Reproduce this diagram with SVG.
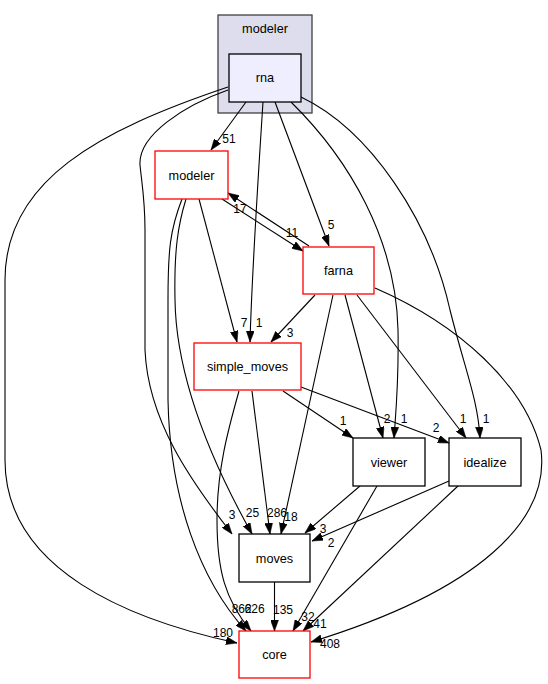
<svg xmlns="http://www.w3.org/2000/svg" width="548" height="684" viewBox="0 0 548 684">
<defs>
<marker id="ah" markerUnits="userSpaceOnUse" markerWidth="11" markerHeight="8" refX="11" refY="4" orient="auto" viewBox="0 0 11 8">
<path d="M0,0 L11,4 L0,8 z" fill="#000" stroke="#000" stroke-width="0.5"/>
</marker>
<style>
.e{fill:none;stroke:#000;stroke-width:1.1;marker-end:url(#ah)}
.t{font-family:"Liberation Sans",Arial,sans-serif;font-size:12.7px;text-anchor:middle;fill:#000}
.l{font-family:"Liberation Sans",Arial,sans-serif;font-size:12px;text-anchor:middle;fill:#000}
.red{fill:#fff;stroke:#ff0000;stroke-width:1.3}
.blk{fill:#fff;stroke:#000;stroke-width:1.3}
</style>
</defs>
<rect width="548" height="684" fill="#fff"/>
<g id="cluster_modeler">
<rect x="218" y="15" width="94" height="98" fill="#ddddee" stroke="#404040" stroke-width="1.3"/>
<text class="t" x="265" y="33">modeler</text>
</g>
<g id="connectors">
<path class="e" d="M246,102 L211,150"/>
<path class="e" d="M275,102 L329,246"/>
<path class="e" d="M263,102 C258,180 252,270 250,342"/>
<path class="e" d="M291,102 C350,160 396,240 398,330 C399,380 396,410 394,438"/>
<path class="e" d="M301,97 C370,130 430,220 450,310 C465,370 478,400 480,438"/>
<path class="e" d="M228,90 C185,105 138,135 140,165 C142,185 145,200 145,230 L145,350 C148,420 190,480 232,534"/>
<path class="e" d="M228,87 C100,130 5,180 5,280 L5,460 C5,570 130,620 237,643"/>
<path class="e" d="M222,199 L303,251"/>
<path class="e" d="M309,246 L228,193"/>
<path class="e" d="M199,199 L237,342"/>
<path class="e" d="M186,199 C178,225 174,250 175,300 C176,370 205,450 252,534"/>
<path class="e" d="M182,199 C170,230 168,250 168,300 L168,400 C170,500 200,580 246,631"/>
<path class="e" d="M239,391 C228,430 217,470 217,520 C217,570 225,600 251,631"/>
<path class="e" d="M252,391 L270,534"/>
<path class="e" d="M283,391 L353,438"/>
<path class="e" d="M301,387 L449,443"/>
<path class="e" d="M315,295 L271,342"/>
<path class="e" d="M333,295 L281,534"/>
<path class="e" d="M345,295 L383,438"/>
<path class="e" d="M357,295 L466,438"/>
<path class="e" d="M375,288 C460,325 525,385 541,450 C550,520 480,590 311,642"/>
<path class="e" d="M360,486 L305,533"/>
<path class="e" d="M377,486 L293,631"/>
<path class="e" d="M449,481 L312,541"/>
<path class="e" d="M458,486 L303,631"/>
<path class="e" d="M274.5,582 L274.5,631"/>
<text class="l" x="229" y="143">51</text>
<text class="l" x="240" y="213">17</text>
<text class="l" x="292" y="237">11</text>
<text class="l" x="331" y="229">5</text>
<text class="l" x="244" y="327">7</text>
<text class="l" x="259" y="327">1</text>
<text class="l" x="290" y="337">3</text>
<text class="l" x="343" y="425">1</text>
<text class="l" x="387" y="423">2</text>
<text class="l" x="404" y="423">1</text>
<text class="l" x="436" y="432">2</text>
<text class="l" x="463" y="423">1</text>
<text class="l" x="486" y="423">1</text>
<text class="l" x="232" y="519">3</text>
<text class="l" x="252.5" y="517">25</text>
<text class="l" x="277" y="517">286</text>
<text class="l" x="291" y="521">18</text>
<text class="l" x="323" y="533">3</text>
<text class="l" x="331" y="547">2</text>
<text class="l" x="241.7" y="613">862</text>
<text class="l" x="254.6" y="613">626</text>
<text class="l" x="283" y="614">135</text>
<text class="l" x="308" y="621">32</text>
<text class="l" x="320" y="628">41</text>
<text class="l" x="223" y="637">180</text>
<text class="l" x="330" y="648">408</text>
</g>
<g id="node_rna">
<rect x="229" y="54" width="72" height="48" fill="#eeeeff" stroke="#000" stroke-width="1.3"/>
<text class="t" x="265" y="82">rna</text>
</g>
<g id="node_modeler">
<rect class="red" x="155" y="151" width="73" height="48"/>
<text class="t" x="191.5" y="179.5">modeler</text>
</g>
<g id="node_farna">
<rect class="red" x="303" y="247" width="71" height="47"/>
<text class="t" x="338.5" y="275">farna</text>
</g>
<g id="node_simple_moves">
<rect class="red" x="194" y="343" width="107" height="47"/>
<text class="t" x="247.5" y="371">simple_moves</text>
</g>
<g id="node_viewer">
<rect class="blk" x="353" y="438" width="72" height="48"/>
<text class="t" x="389" y="466.5">viewer</text>
</g>
<g id="node_idealize">
<rect class="blk" x="449" y="438" width="72" height="48"/>
<text class="t" x="485" y="466.5">idealize</text>
</g>
<g id="node_moves">
<rect class="blk" x="239" y="534" width="71" height="48"/>
<text class="t" x="274.5" y="562.5">moves</text>
</g>
<g id="node_core">
<rect class="red" x="239" y="631" width="71" height="47"/>
<text class="t" x="274.5" y="659">core</text>
</g>
</svg>
